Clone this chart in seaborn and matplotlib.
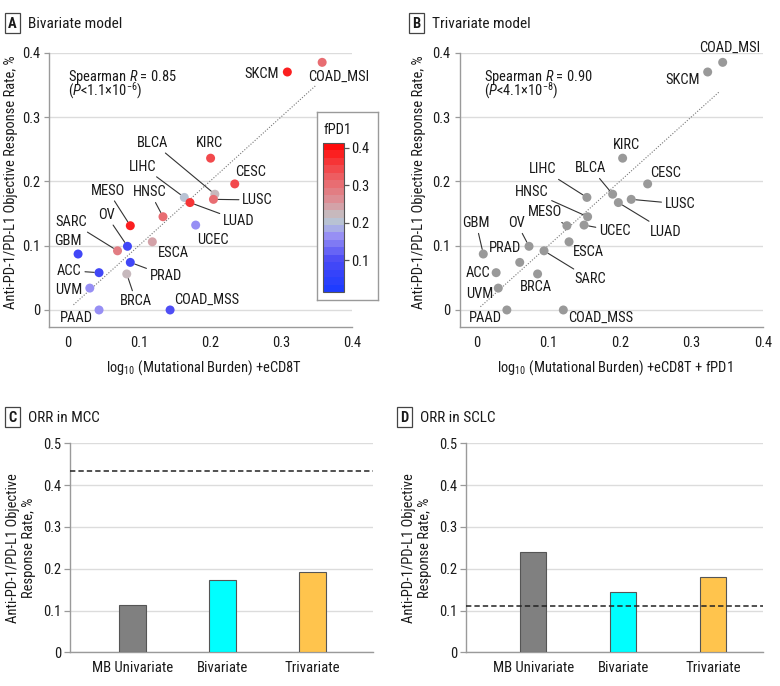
import numpy as np
import pandas as pd
import matplotlib
matplotlib.use("Agg")
import matplotlib.pyplot as plt
import seaborn as sns
from matplotlib import font_manager
from matplotlib.font_manager import FontProperties
from matplotlib.textpath import TextPath
from matplotlib.colors import LinearSegmentedColormap, Normalize
from matplotlib.patches import Rectangle
from matplotlib.cm import ScalarMappable

# ---------------- data ----------------
cancers = ['SKCM', 'COAD_MSI', 'KIRC', 'CESC', 'BLCA', 'LIHC', 'LUSC', 'LUAD', 'HNSC',
           'UCEC', 'MESO', 'ESCA', 'OV', 'SARC', 'GBM', 'PRAD', 'ACC', 'BRCA', 'UVM',
           'PAAD', 'COAD_MSS']
orr = [0.370, 0.385, 0.236, 0.196, 0.180, 0.175, 0.172, 0.167, 0.145,
       0.132, 0.131, 0.106, 0.099, 0.092, 0.087, 0.074, 0.058, 0.056, 0.034,
       0.000, 0.000]
x_bivariate = [0.309, 0.358, 0.201, 0.235, 0.207, 0.164, 0.205, 0.172, 0.134,
               0.180, 0.088, 0.119, 0.084, 0.070, 0.0145, 0.088, 0.044, 0.083, 0.031,
               0.044, 0.144]
x_trivariate = [0.323, 0.344, 0.204, 0.239, 0.190, 0.154, 0.216, 0.198, 0.155,
                0.150, 0.126, 0.129, 0.073, 0.094, 0.009, 0.060, 0.027, 0.085, 0.030,
                0.042, 0.121]
fpd1 = [0.39, 0.31, 0.34, 0.35, 0.215, 0.195, 0.30, 0.37, 0.31,
        0.16, 0.38, 0.245, 0.09, 0.28, 0.075, 0.09, 0.08, 0.225, 0.16,
        0.16, 0.10]
identity_range_biv = [0.008, 0.350]
identity_range_triv = [0.005, 0.340]
stats_biv = ("0.85", "1.1", "6")
stats_triv = ("0.90", "4.1", "8")

bar_models = ['MB Univariate', 'Bivariate', 'Trivariate']
mcc_orr = [0.112, 0.173, 0.192]
mcc_observed = 0.434
sclc_orr = [0.239, 0.144, 0.179]
sclc_observed = 0.110

# ---------------- label layout (text centers, leader flag) ----------------
labels_A = {
    'SKCM': (0.2735, 0.367, False), 'COAD_MSI': (0.381, 0.363, False),
    'KIRC': (0.1995, 0.259, False), 'CESC': (0.2575, 0.215, False),
    'BLCA': (0.120, 0.260, True), 'LIHC': (0.1055, 0.223, True),
    'MESO': (0.0564, 0.1855, True), 'HNSC': (0.1158, 0.183, True),
    'LUSC': (0.267, 0.171, True), 'LUAD': (0.2407, 0.139, True),
    'UCEC': (0.204, 0.109, False), 'SARC': (0.0044, 0.137, True),
    'OV': (0.054, 0.148, True), 'GBM': (0.0004, 0.107, False),
    'ESCA': (0.148, 0.089, False), 'ACC': (0.0023, 0.061, True),
    'PRAD': (0.138, 0.0534, True), 'UVM': (0.002, 0.031, False),
    'BRCA': (0.0958, 0.014, True), 'COAD_MSS': (0.195, 0.0156, False),
    'PAAD': (0.012, -0.013, False),
}
labels_B = {
    'COAD_MSI': (0.354, 0.408, False), 'SKCM': (0.2885, 0.358, False),
    'KIRC': (0.2097, 0.2566, False), 'CESC': (0.264, 0.2126, False),
    'BLCA': (0.1597, 0.2204, True), 'LIHC': (0.0917, 0.219, True),
    'HNSC': (0.0766, 0.184, True), 'LUSC': (0.2843, 0.165, True),
    'LUAD': (0.2645, 0.122, True), 'UCEC': (0.193, 0.123, True),
    'MESO': (0.096, 0.152, True), 'GBM': (-0.001, 0.135, True),
    'OV': (0.056, 0.135, True), 'PRAD': (0.039, 0.097, False),
    'ESCA': (0.156, 0.090, False), 'SARC': (0.159, 0.0477, True),
    'ACC': (0.001, 0.057, False), 'BRCA': (0.082, 0.036, False),
    'UVM': (0.0035, 0.0244, False), 'PAAD': (0.012, -0.013, False),
    'COAD_MSS': (0.1727, -0.013, False),
}

# ---------------- font selection ----------------
entries = font_manager.fontManager.ttflist
names = {f.name for f in entries}
FONT, STRETCH = None, 'normal'
for cand in ['Liberation Sans Narrow', 'Roboto Condensed', 'Noto Sans Condensed',
             'Open Sans Condensed', 'Noto Sans SemiCondensed', 'DejaVu Sans Condensed']:
    if cand in names:
        FONT = cand
        break
if FONT is None:
    for fam in ['Noto Sans', 'Roboto', 'Open Sans', 'DejaVu Sans']:
        if any(f.name == fam and str(f.stretch) in ('condensed', 'semi-condensed')
               for f in entries):
            FONT, STRETCH = fam, 'condensed'
            break
if FONT is None:
    FONT = 'Lato' if 'Lato' in names else 'DejaVu Sans'

sns.set_theme(style='white')
plt.rcParams['font.family'] = [FONT, 'DejaVu Sans']
plt.rcParams['font.stretch'] = STRETCH
plt.rcParams['mathtext.fontset'] = 'custom'
_st = (':stretch=condensed' if STRETCH == 'condensed' else '')
plt.rcParams['mathtext.rm'] = FONT + _st
plt.rcParams['mathtext.it'] = FONT + ':style=italic' + _st
plt.rcParams['mathtext.bf'] = FONT + ':weight=bold' + _st


def width_pt(s, size=10.0, **kw):
    tp = TextPath((0, 0), s, size=size, prop=FontProperties(family=FONT, stretch=STRETCH, **kw))
    return tp.get_extents().width


# scale text so widths match the reference (px -> pt at 100 dpi)
FS = float(np.clip(10.0 * (64 / 1.3889) / width_pt('COAD_MSS'), 8.0, 12.5))
FS_T = float(np.clip(10.0 * (92 / 1.3889) / width_pt('Bivariate model'), 9.0, 16.0))
FS_BAR = float(np.clip(10.0 * (79 / 1.3889) / width_pt('MB Univariate'), 8.0, 12.5))

TXT = '#1a1a1a'
SPINE = '#9a9a9a'
GRID = '#dcdcdc'

W, H = 780, 686


def rect(l, t, r, b):
    return [l / W, 1 - b / H, (r - l) / W, (b - t) / H]


fig = plt.figure(figsize=(W / 100, H / 100), dpi=100)
fig.patch.set_facecolor('white')

cmap = LinearSegmentedColormap.from_list('fpd1', [
    (0.00, '#1e3cff'), (0.20, '#4a4af5'), (0.38, '#9c94f4'), (0.46, '#b4c4d8'),
    (0.53, '#c8b8bc'), (0.62, '#dc9098'), (0.80, '#ee5a5e'), (1.00, '#ff0a0a')]).resampled(20)
vmin, vmax = 0.015, 0.413

df = pd.DataFrame({'cancer': cancers, 'orr': orr, 'xb': x_bivariate,
                   'xt': x_trivariate, 'fpd1': fpd1})


def style_scatter(ax, xlim_left):
    ax.set_xlim(xlim_left, 0.4)
    ax.set_ylim(-0.026, 0.4)
    ticks = [0, 0.1, 0.2, 0.3, 0.4]
    ticklabels = ['0', '0.1', '0.2', '0.3', '0.4']
    ax.set_xticks(ticks)
    ax.set_xticklabels(ticklabels)
    ax.set_yticks(ticks)
    ax.set_yticklabels(ticklabels)
    ax.yaxis.grid(True, color=GRID, lw=1)
    ax.xaxis.grid(False)
    ax.set_axisbelow(True)
    for s in ['top', 'right']:
        ax.spines[s].set_visible(False)
    for s in ['left', 'bottom']:
        ax.spines[s].set_color(SPINE)
        ax.spines[s].set_linewidth(1.0)
    ax.tick_params(axis='y', length=3.5, color=SPINE, width=0.9, pad=3,
                   labelsize=FS, labelcolor=TXT, left=True)
    ax.tick_params(axis='x', length=0, pad=7, labelsize=FS, labelcolor=TXT)
    ax.set_ylabel('Anti-PD-1/PD-L1 Objective Response Rate, %', fontsize=FS, color=TXT)


def add_labels(ax, xcol, layout):
    for name, xv, yv in zip(df['cancer'], df[xcol], df['orr']):
        tx, ty, leader = layout[name]
        if leader:
            ax.annotate(name, xy=(xv, yv), xytext=(tx, ty), textcoords='data',
                        ha='center', va='center', fontsize=FS, color=TXT,
                        annotation_clip=False,
                        arrowprops=dict(arrowstyle='-', color='#333333', lw=0.8,
                                        shrinkA=0, shrinkB=3.5))
        else:
            ax.text(tx, ty, name, ha='center', va='center', fontsize=FS,
                    color=TXT, clip_on=False)


def add_stats(ax, x, stats):
    r, p, e = stats
    s = (r'Spearman $\mathit{R}$ = ' + r + '\n' +
         r'($\mathit{P}$<' + p + r'×10$^{\mathrm{−' + e + r'}}$)')
    # multi-line text with va='baseline' anchors the baseline of the last line
    ax.text(x, 0.334, s, fontsize=FS, color=TXT, ha='left', va='baseline',
            linespacing=0.62)


# ---------------- Panel A ----------------
axA = fig.add_axes(rect(49.3, 52.7, 352, 326.7))
axA.plot(identity_range_biv, identity_range_biv, ls=(0, (1, 1.5)), color='#777777', lw=0.8, zorder=1)
sns.scatterplot(data=df, x='xb', y='orr', hue='fpd1', palette=cmap,
                hue_norm=Normalize(vmin, vmax), legend=False, s=42,
                edgecolor='none', ax=axA, zorder=3)
style_scatter(axA, -0.026)
axA.set_xlabel(r'log$_{10}$ (Mutational Burden) +eCD8T', fontsize=FS, color=TXT)
axA.xaxis.set_label_coords(0.512, -0.114)
axA.yaxis.set_label_coords(-0.103, 0.529)
add_labels(axA, 'xb', labels_A)
add_stats(axA, 0.001, stats_biv)

# colorbar box
box = fig.add_axes(rect(317, 112, 378, 300))
box.set_xticks([]); box.set_yticks([])
box.set_facecolor('white')
for s in box.spines.values():
    s.set_color(SPINE); s.set_linewidth(1.0)
box.text(0.1, 0.905, 'fPD1', transform=box.transAxes, fontsize=FS, color=TXT,
         ha='left', va='center')
cax = fig.add_axes(rect(323.3, 143, 344.3, 292))
sm = ScalarMappable(norm=Normalize(vmin, vmax), cmap=cmap)
cb = fig.colorbar(sm, cax=cax, ticks=[0.1, 0.2, 0.3, 0.4])
cb.ax.set_yticklabels(['0.1', '0.2', '0.3', '0.4'])
cb.outline.set_edgecolor('#555555'); cb.outline.set_linewidth(0.8)
cb.ax.tick_params(length=3.5, width=0.9, color='#555555', labelsize=FS,
                  labelcolor=TXT, pad=1.5)

# ---------------- Panel B ----------------
axB = fig.add_axes(rect(459.7, 52.7, 762.7, 326.7))
axB.plot(identity_range_triv, identity_range_triv, ls=(0, (1, 1.5)), color='#777777', lw=0.8, zorder=1)
sns.scatterplot(data=df, x='xt', y='orr', color='#999999', s=42,
                edgecolor='none', ax=axB, zorder=3)
style_scatter(axB, -0.024)
axB.set_xlabel(r'log$_{10}$ (Mutational Burden) +eCD8T + fPD1', fontsize=FS, color=TXT)
axB.xaxis.set_label_coords(0.5115, -0.114)
axB.yaxis.set_label_coords(-0.111, 0.529)
add_labels(axB, 'xt', labels_B)
add_stats(axB, 0.010, stats_triv)

# ---------------- Panels C, D ----------------
bar_colors = ['#808080', '#00FFFF', '#FFC44D']


def bar_panel(box_rect, values, observed, xlim, ylab_x):
    ax = fig.add_axes(rect(*box_rect))
    sns.barplot(x=bar_models, y=values, hue=bar_models, palette=bar_colors,
                width=0.29, saturation=1, edgecolor='#555555', linewidth=0.8,
                legend=False, ax=ax, zorder=3)
    ax.axhline(observed, color='#222222', ls=(0, (3.5, 2)), lw=1.1, zorder=4)
    ax.set_xlim(*xlim)
    ax.set_ylim(0, 0.5)
    ax.set_yticks([0, 0.1, 0.2, 0.3, 0.4, 0.5])
    ax.set_yticklabels(['0', '0.1', '0.2', '0.3', '0.4', '0.5'])
    ax.yaxis.grid(True, color=GRID, lw=1)
    ax.xaxis.grid(False)
    ax.set_axisbelow(True)
    for s in ['top', 'right']:
        ax.spines[s].set_visible(False)
    for s in ['left', 'bottom']:
        ax.spines[s].set_color(SPINE)
        ax.spines[s].set_linewidth(1.0)
    ax.tick_params(axis='y', length=4, color=SPINE, width=0.9, pad=2.5,
                   labelsize=FS, labelcolor=TXT, left=True)
    ax.tick_params(axis='x', length=0, pad=6, labelsize=FS_BAR, labelcolor=TXT)
    ax.set_xlabel('')
    ax.set_ylabel('Anti-PD-1/PD-L1 Objective\nResponse Rate, %', fontsize=FS,
                  color=TXT, linespacing=1.15)
    ax.yaxis.set_label_coords(ylab_x, 0.5)
    return ax


axC = bar_panel((70, 443.3, 372.7, 652.3), mcc_orr, mcc_observed, (-0.694, 2.669), -0.112)
axD = bar_panel((466, 443.3, 762.7, 652.3), sclc_orr, sclc_observed, (-0.748, 2.549), -0.115)


# ---------------- panel headers ----------------
def header(l, t, letter, title):
    fig.add_artist(Rectangle((l / W, 1 - (t + 20) / H), 15 / W, 20 / H,
                             transform=fig.transFigure, fill=True, fc='white',
                             ec='#444444', lw=0.9))
    fig.text((l + 7.5) / W, 1 - (t + 10.5) / H, letter, ha='center', va='center',
             fontsize=FS, fontweight='bold', color=TXT)
    fig.text((l + 22.5) / W, 1 - (t + 10.5) / H, title, ha='left', va='center',
             fontsize=FS_T, color=TXT)


header(5, 13, 'A', 'Bivariate model')
header(409, 13, 'B', 'Trivariate model')
header(5, 407, 'C', 'ORR in MCC')
header(397, 407, 'D', 'ORR in SCLC')

fig.savefig('out.png', dpi=100, facecolor='white')
